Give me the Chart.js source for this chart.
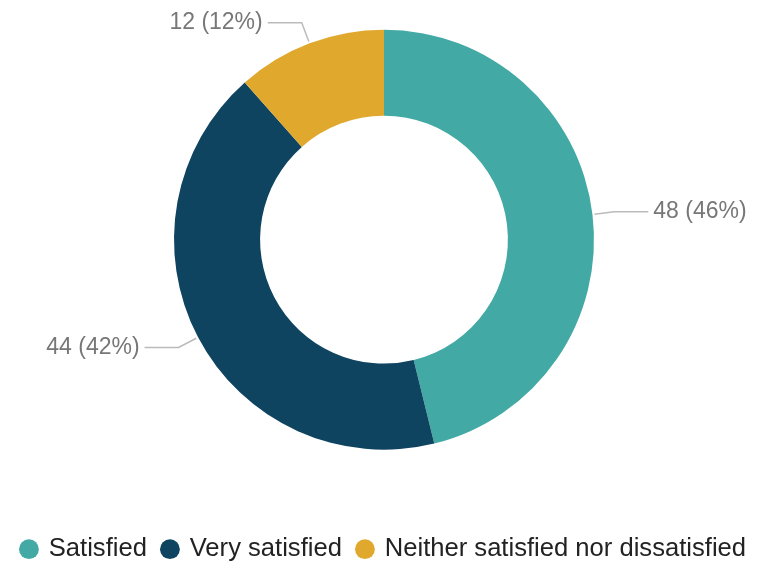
<!DOCTYPE html>
<html>
<head>
<meta charset="utf-8">
<script src="https://cdn.jsdelivr.net/npm/chart.js@4"></script>
<style>
  html, body { margin: 0; padding: 0; background: #fff; }
  #wrap { width: 776px; height: 564px; }
</style>
</head>
<body>
<div id="wrap"><canvas id="DonutChart"></canvas></div>
<script>
var labels = ['Satisfied', 'Very satisfied', 'Neither satisfied nor dissatisfied'];
var counts = [48, 44, 12];
var colors = ['#42a9a4', '#0f4461', '#e0a92e'];

var total = counts.reduce(function (a, b) { return a + b; }, 0);

// labels outside the ring with a small leader line
var leaderLabels = {
    id: 'leaderLabels',
    afterDatasetsDraw: function (chart) {
        var ctx = chart.ctx;
        var meta = chart.getDatasetMeta(0);
        ctx.save();
        ctx.font = '23px "Liberation Sans", Arial, sans-serif';
        ctx.textBaseline = 'middle';
        meta.data.forEach(function (arc, i) {
            var p = arc.getProps(['x', 'y', 'startAngle', 'endAngle', 'outerRadius'], true);
            var mid = (p.startAngle + p.endAngle) / 2;
            var cos = Math.cos(mid), sin = Math.sin(mid);
            var x0 = p.x + cos * (p.outerRadius + 2), y0 = p.y + sin * (p.outerRadius + 2);
            var x1 = p.x + cos * (p.outerRadius + 22), y1 = p.y + sin * (p.outerRadius + 22);
            var dir = cos >= 0 ? 1 : -1;
            var x2 = x1 + dir * 34;
            ctx.strokeStyle = '#bbbbbb';
            ctx.lineWidth = 1.5;
            ctx.beginPath();
            ctx.moveTo(x0, y0);
            ctx.lineTo(x1, y1);
            ctx.lineTo(x2, y1);
            ctx.stroke();
            var pct = Math.round(counts[i] / total * 100);
            ctx.fillStyle = '#777777';
            ctx.textAlign = dir > 0 ? 'left' : 'right';
            ctx.fillText(counts[i] + ' (' + pct + '%)', x2 + dir * 5, y1);
        });
        ctx.restore();
    }
};

var config = {
    type: 'doughnut',
    data: {
        labels: labels,
        datasets: [{
            data: counts,
            backgroundColor: colors,
            borderWidth: 0
        }]
    },
    options: {
        responsive: true,
        maintainAspectRatio: false,
        animation: false,
        radius: 210,
        cutout: '59%',
        layout: { padding: { top: 0, left: 0, right: 8, bottom: -8 } },
        plugins: {
            tooltip: { enabled: false },
            legend: {
                position: 'bottom',
                title: { display: true, text: '', font: { size: 1, lineHeight: 1 }, padding: { top: 40, bottom: 0 } },
                labels: {
                    usePointStyle: true,
                    pointStyle: 'circle',
                    boxWidth: 14,
                    boxHeight: 14,
                    padding: 16,
                    color: '#222222',
                    font: { size: 25.6, family: '"Liberation Sans", Arial, sans-serif' }
                }
            }
        }
    },
    plugins: [leaderLabels]
};

var donutChart = new Chart(document.getElementById('DonutChart'), config);
</script>
</body>
</html>
